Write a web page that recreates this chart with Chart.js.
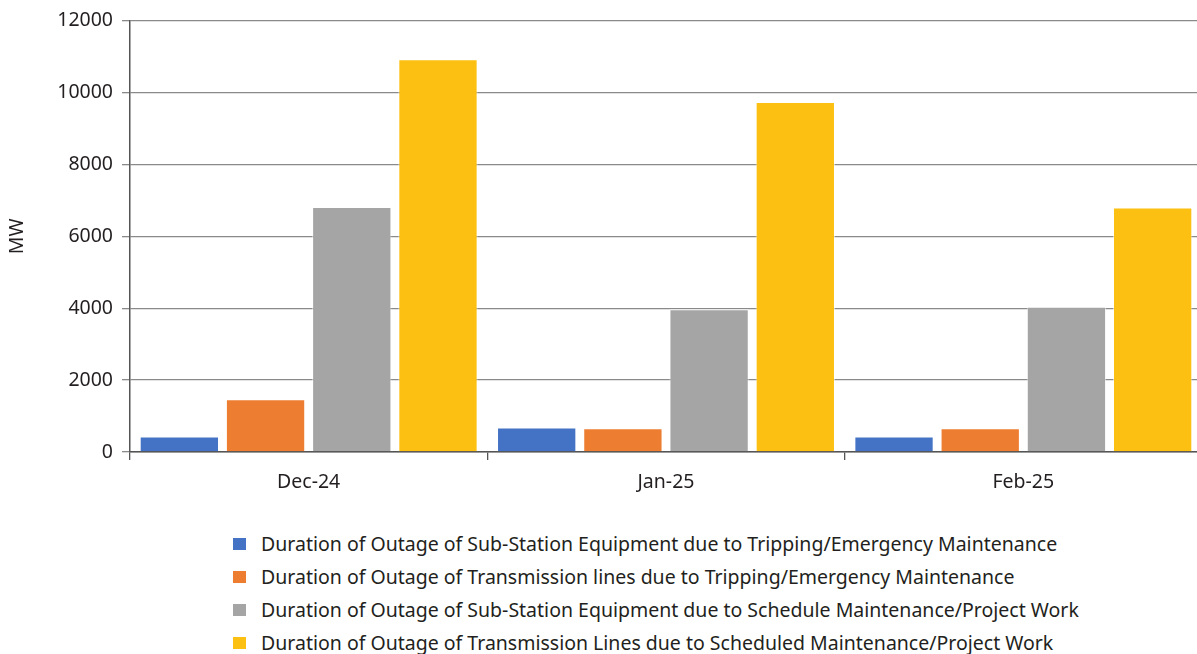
<!DOCTYPE html>
<html>
<head>
<meta charset="utf-8">
<script src="https://cdn.jsdelivr.net/npm/chart.js@4/dist/chart.umd.min.js"></script>
<style>
  html, body { margin: 0; padding: 0; background: #fff; overflow: hidden; }
  #wrap { position: relative; width: 1197px; height: 654px; overflow: hidden; }
  #box { position: absolute; left: 0; top: 0; width: 1202px; height: 501px; }
  #legend { position: absolute; left: 233px; top: 527px; font-family: "Noto Sans", sans-serif; font-size: 19.5px; color: #231f20; }
  .item { display: flex; align-items: center; height: 33px; white-space: nowrap; }
  .sw { width: 13px; height: 12px; margin-right: 15px; flex: none; }
</style>
</head>
<body>
<div id="wrap">
  <div id="box"><canvas id="c"></canvas></div>
  <div id="legend"></div>
</div>
<script>
// Monthly outage durations (MW)
const months = ["Dec-24", "Jan-25", "Feb-25"];
const seriesNames = [
  "Duration of Outage of Sub-Station Equipment due to Tripping/Emergency Maintenance",
  "Duration of Outage of Transmission lines due to Tripping/Emergency Maintenance",
  "Duration of Outage of Sub-Station Equipment due to Schedule Maintenance/Project Work",
  "Duration of Outage of Transmission Lines due to Scheduled Maintenance/Project Work"
];
const subStationTripping = [430, 680, 430];
const linesTripping = [1470, 660, 660];
const subStationScheduled = [6820, 3970, 4040];
const linesScheduled = [10930, 9740, 6800];
const yTicks = [0, 2000, 4000, 6000, 8000, 10000, 12000];

const colors = ["#4472C4", "#ED7D31", "#A5A5A5", "#FBC012"];
const values = [subStationTripping, linesTripping, subStationScheduled, linesScheduled];

const FONT = "'Noto Sans', sans-serif";
const SIZE = 19.5;

const datasets = values.map((v, i) => ({
  label: seriesNames[i],
  data: v,
  backgroundColor: colors[i],
  borderColor: "rgba(255,255,255,0.55)",
  borderWidth: 1,
  categoryPercentage: 0.965,
  barPercentage: 0.92
}));

new Chart(document.getElementById("c"), {
  type: "bar",
  data: { labels: months, datasets },
  options: {
    responsive: true,
    maintainAspectRatio: false,
    animation: false,
    layout: { padding: { top: 20, right: 0, left: 0, bottom: 0 } },
    plugins: { legend: { display: false }, tooltip: { enabled: false } },
    scales: {
      x: {
        afterFit: s => { s.height = 49; },
        grid: { drawOnChartArea: false, drawTicks: true, tickLength: 8, color: "#555", lineWidth: 1.3, offset: true },
        border: { color: "#555", width: 1.5 },
        ticks: { color: "#231f20", font: { family: FONT, size: SIZE }, padding: 11 }
      },
      y: {
        min: 0, max: 12000,
        afterFit: s => { s.width = 130; },
        afterBuildTicks: s => { s.ticks = yTicks.map(v => ({ value: v })); },
        grid: { color: "#8a8a8a", lineWidth: 1.3, tickLength: 8 },
        border: { color: "#555", width: 1.5 },
        ticks: { color: "#231f20", font: { family: FONT, size: SIZE }, padding: 9, callback: v => String(v) },
        title: { display: true, text: "MW", color: "#231f20", font: { family: FONT, size: SIZE }, padding: { top: 6, bottom: 0 } }
      }
    }
  }
});

// Stacked legend, one entry per row
const lg = document.getElementById("legend");
seriesNames.forEach((name, i) => {
  const row = document.createElement("div");
  row.className = "item";
  const sw = document.createElement("span");
  sw.className = "sw";
  sw.style.background = colors[i];
  const t = document.createElement("span");
  t.textContent = name;
  row.appendChild(sw);
  row.appendChild(t);
  lg.appendChild(row);
});
</script>
</body>
</html>
